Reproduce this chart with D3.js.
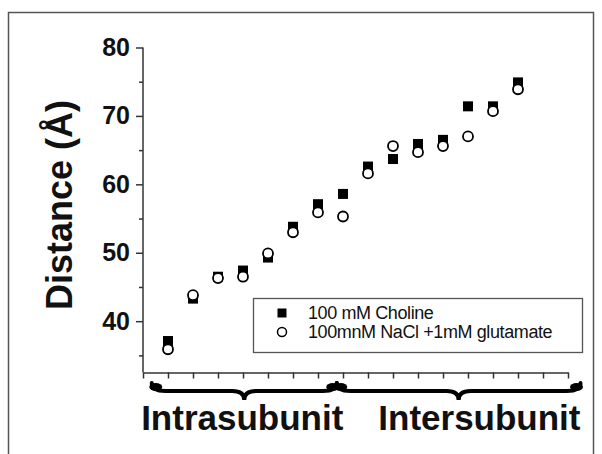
<!DOCTYPE html>
<html>
<head>
<meta charset="utf-8">
<script src="https://cdn.jsdelivr.net/npm/d3@7"></script>
<style>
  body { margin: 0; background: #fff; }
  text { font-family: "Liberation Sans", Arial, sans-serif; fill: #111; }
</style>
</head>
<body>
<div id="chart"></div>
<script>
// site index along the x axis
var positions = [1, 2, 3, 4, 5, 6, 7, 8, 9, 10, 11, 12, 13, 14, 15];
// distances (Å)
var choline = [37.1, 43.3, 46.5, 47.4, 49.3, 53.8, 57.1, 58.6, 62.6, 63.7, 65.9, 66.5, 71.4, 71.4, 74.9];
var naclGlu = [35.9, 43.8, 46.3, 46.5, 49.9, 53.0, 55.9, 55.3, 61.6, 65.6, 64.7, 65.6, 67.0, 70.7, 73.9];
var seriesNames = ['100 mM Choline', '100mnM NaCl +1mM glutamate'];
var yTicks = [35, 40, 45, 50, 55, 60, 65, 70, 75, 80];
var groupNames = ['Intrasubunit', 'Intersubunit'];
var groupStart = [0.35, 7.75];
var groupEnd = [7.75, 17.5];

var W = 602, H = 454;
var svg = d3.select('#chart').append('svg')
  .attr('width', W)
  .attr('height', H);

// outer frame
svg.append('rect')
  .attr('x', 8.5).attr('y', 12.5)
  .attr('width', 585).attr('height', 460)
  .style('fill', 'none')
  .style('stroke', '#555')
  .style('stroke-width', 1.5);

var x = d3.scaleLinear().domain([0, 17]).range([143, 568]);
var y = d3.scaleLinear().domain([32.5, 80]).range([372.5, 47.5]);

// y axis
var yAxis = svg.append('g')
  .attr('transform', 'translate(' + x(0) + ',0)')
  .call(d3.axisLeft(y).tickValues(yTicks).tickSizeOuter(0)
    .tickFormat(function(d){ return d % 10 === 0 ? d : ''; }));
yAxis.select('.domain').style('stroke', '#333').style('stroke-width', 1.5)
  .attr('d', 'M0,' + y(80) + 'V' + y(32.5));
yAxis.selectAll('.tick line')
  .attr('x2', function(d){ return d % 10 === 0 ? -7 : -4; })
  .style('stroke', '#333').style('stroke-width', 1.5);
yAxis.selectAll('.tick text')
  .attr('x', -13)
  .style('font-size', '25px')
  .style('font-weight', 'bold')
  .style('font-family', '"Liberation Sans", Arial, sans-serif')
  .style('fill', '#111');

// x axis
var xAxis = svg.append('g')
  .attr('transform', 'translate(0,' + y(32.5) + ')')
  .call(d3.axisBottom(x).tickValues(d3.range(0, 18)).tickSize(6).tickSizeOuter(0).tickFormat(''));
xAxis.select('.domain').style('stroke', '#333').style('stroke-width', 1.5);
xAxis.selectAll('.tick line').style('stroke', '#333').style('stroke-width', 1.5);

// y label
svg.append('text')
  .attr('transform', 'translate(72,205) rotate(-90)')
  .attr('text-anchor', 'middle')
  .style('font-size', '36px')
  .style('font-weight', 'bold')
  .text('Distance (Å)');

// braces under the axis
var braceTop = 383, braceMid = 391, braceTip = 400;
function bracePath(a, b) {
  var c = (a + b) / 2;
  return 'M' + a + ',' + braceTop +
    ' Q' + a + ',' + braceMid + ' ' + (a + 14) + ',' + braceMid +
    ' L' + (c - 12) + ',' + braceMid +
    ' Q' + c + ',' + braceMid + ' ' + c + ',' + braceTip +
    ' Q' + c + ',' + braceMid + ' ' + (c + 12) + ',' + braceMid +
    ' L' + (b - 14) + ',' + braceMid +
    ' Q' + b + ',' + braceMid + ' ' + b + ',' + braceTop;
}
groupNames.forEach(function(name, i){
  var a = x(groupStart[i]), b = x(groupEnd[i]);
  svg.append('path')
    .attr('d', bracePath(a, b))
    .style('fill', 'none')
    .style('stroke', '#000')
    .style('stroke-width', 4)
    .style('stroke-linecap', 'round');
  // bulb ends
  [a, b].forEach(function(e){
    svg.append('ellipse')
      .attr('cx', e + (e === a ? 4 : -4)).attr('cy', braceTop + 4)
      .attr('rx', 6.5).attr('ry', 4)
      .style('fill', '#000');
  });
  svg.append('text')
    .attr('x', i === 0 ? (a + b) / 2 - 2 : b)
    .attr('y', 430)
    .attr('text-anchor', i === 0 ? 'middle' : 'end')
    .style('font-size', '35px')
    .style('font-weight', 'bold')
    .text(name);
});

// points
svg.append('g').selectAll('rect')
  .data(positions)
  .enter().append('rect')
  .attr('x', function(d){ return x(d) - 5; })
  .attr('y', function(d, i){ return y(choline[i]) - 5; })
  .attr('width', 10).attr('height', 10)
  .style('fill', '#000');

svg.append('g').selectAll('circle')
  .data(positions)
  .enter().append('circle')
  .attr('cx', function(d){ return x(d); })
  .attr('cy', function(d, i){ return y(naclGlu[i]); })
  .attr('r', 5)
  .style('fill', '#fff')
  .style('stroke', '#000')
  .style('stroke-width', 1.8);

// legend
var legend = svg.append('g');
legend.append('rect')
  .attr('x', 253.5).attr('y', 298.5)
  .attr('width', 329).attr('height', 54)
  .style('fill', '#fff')
  .style('stroke', '#555')
  .style('stroke-width', 1.3);
legend.append('rect')
  .attr('x', 277.5).attr('y', 308.5).attr('width', 9).attr('height', 9)
  .style('fill', '#000');
legend.append('circle')
  .attr('cx', 282).attr('cy', 332).attr('r', 4.5)
  .style('fill', '#fff').style('stroke', '#000').style('stroke-width', 1.5);
legend.selectAll('text.lab')
  .data(seriesNames)
  .enter().append('text')
  .attr('class', 'lab')
  .attr('x', 308)
  .attr('y', function(d, i){ return 313 + i * 19; })
  .attr('dy', '0.35em')
  .style('font-size', '18px')
  .style('letter-spacing', '-0.4px')
  .text(function(d){ return d; });
</script>
</body>
</html>
